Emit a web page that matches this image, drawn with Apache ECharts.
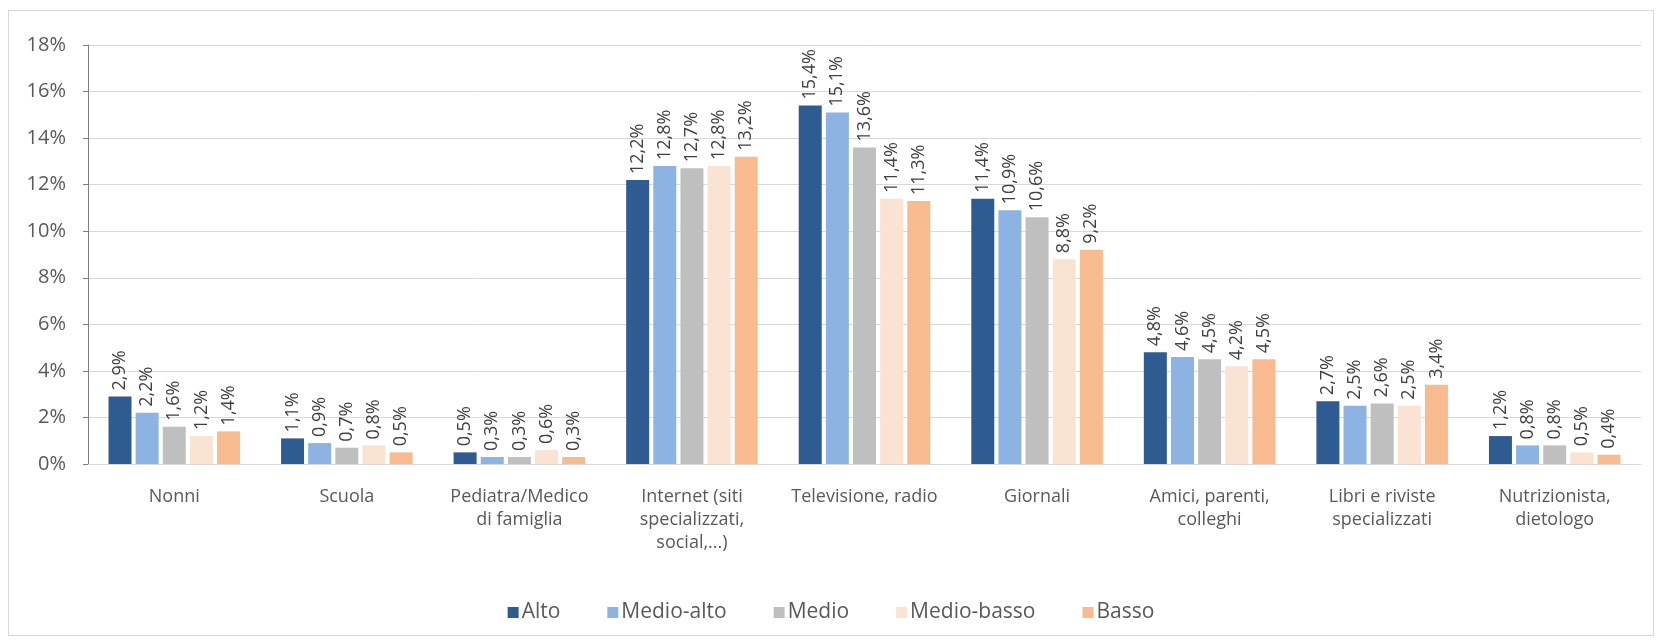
<!DOCTYPE html>
<html>
<head>
<meta charset="utf-8">
<script src="https://cdn.jsdelivr.net/npm/echarts@6/dist/echarts.min.js"></script>
<style>
html,body{margin:0;padding:0;background:#fff;}
#frame{position:absolute;left:8px;top:10px;width:1646px;height:626px;border:1px solid #d9d9d9;box-sizing:border-box;}
#chart{position:absolute;left:0;top:0;width:1662px;height:642px;}
</style>
</head>
<body>
<div id="frame"></div>
<div id="chart"></div>
<script>
const categories = ["Nonni", "Scuola", "Pediatra/Medico\ndi famiglia", "Internet (siti\nspecializzati,\nsocial,...)", "Televisione, radio", "Giornali", "Amici, parenti,\ncolleghi", "Libri e riviste\nspecializzati", "Nutrizionista,\ndietologo"];
const seriesNames = ["Alto", "Medio-alto", "Medio", "Medio-basso", "Basso"];
const alto = [2.9, 1.1, 0.5, 12.2, 15.4, 11.4, 4.8, 2.7, 1.2];
const medioAlto = [2.2, 0.9, 0.3, 12.8, 15.1, 10.9, 4.6, 2.5, 0.8];
const medio = [1.6, 0.7, 0.3, 12.7, 13.6, 10.6, 4.5, 2.6, 0.8];
const medioBasso = [1.2, 0.8, 0.6, 12.8, 11.4, 8.8, 4.2, 2.5, 0.5];
const basso = [1.4, 0.5, 0.3, 13.2, 11.3, 9.2, 4.5, 3.4, 0.4];
const colors = ["#2f5b93", "#8db3e2", "#bfbfbf", "#fbe3d4", "#f8ba8f"];

const allData = [alto, medioAlto, medio, medioBasso, basso];
const font = "'Open Sans', sans-serif";

const chart = echarts.init(document.getElementById('chart'), null, {renderer: 'canvas'});
chart.setOption({
  animation: false,
  color: colors,
  grid: {left: 88, right: 21, top: 45, bottom: 178, containLabel: false},
  legend: {
    data: seriesNames,
    left: 'center',
    top: 597,
    itemWidth: 11,
    itemHeight: 11,
    itemGap: 47,
    icon: 'rect',
    textStyle: {fontFamily: font, fontSize: 21, color: '#595959', padding: [0, 0, 0, -2]}
  },
  xAxis: {
    type: 'category',
    data: categories,
    axisLine: {show: true, lineStyle: {color: '#d9d9d9', width: 1}},
    axisTick: {show: false},
    axisLabel: {fontFamily: font, fontSize: 18, color: '#595959', margin: 21, lineHeight: 23, interval: 0}
  },
  yAxis: {
    type: 'value',
    min: 0,
    max: 18,
    interval: 2,
    axisLine: {show: true, lineStyle: {color: '#7f7f7f', width: 1}},
    axisTick: {show: true, length: 5, lineStyle: {color: '#7f7f7f'}},
    axisLabel: {fontFamily: font, fontSize: 20, color: '#595959', margin: 22, formatter: '{value}%'},
    splitLine: {show: true, lineStyle: {color: '#d9d9d9', width: 1}}
  },
  series: seriesNames.map((name, i) => ({
    name: name,
    type: 'bar',
    data: allData[i],
    barWidth: 23,
    barGap: '18%',
    label: {
      show: true,
      position: 'top',
      rotate: 90,
      align: 'left',
      verticalAlign: 'middle',
      distance: 6,
      fontFamily: font,
      fontSize: 18,
      color: '#404040',
      formatter: p => p.value.toFixed(1).replace('.', ',') + '%'
    }
  }))
});
</script>
</body>
</html>
